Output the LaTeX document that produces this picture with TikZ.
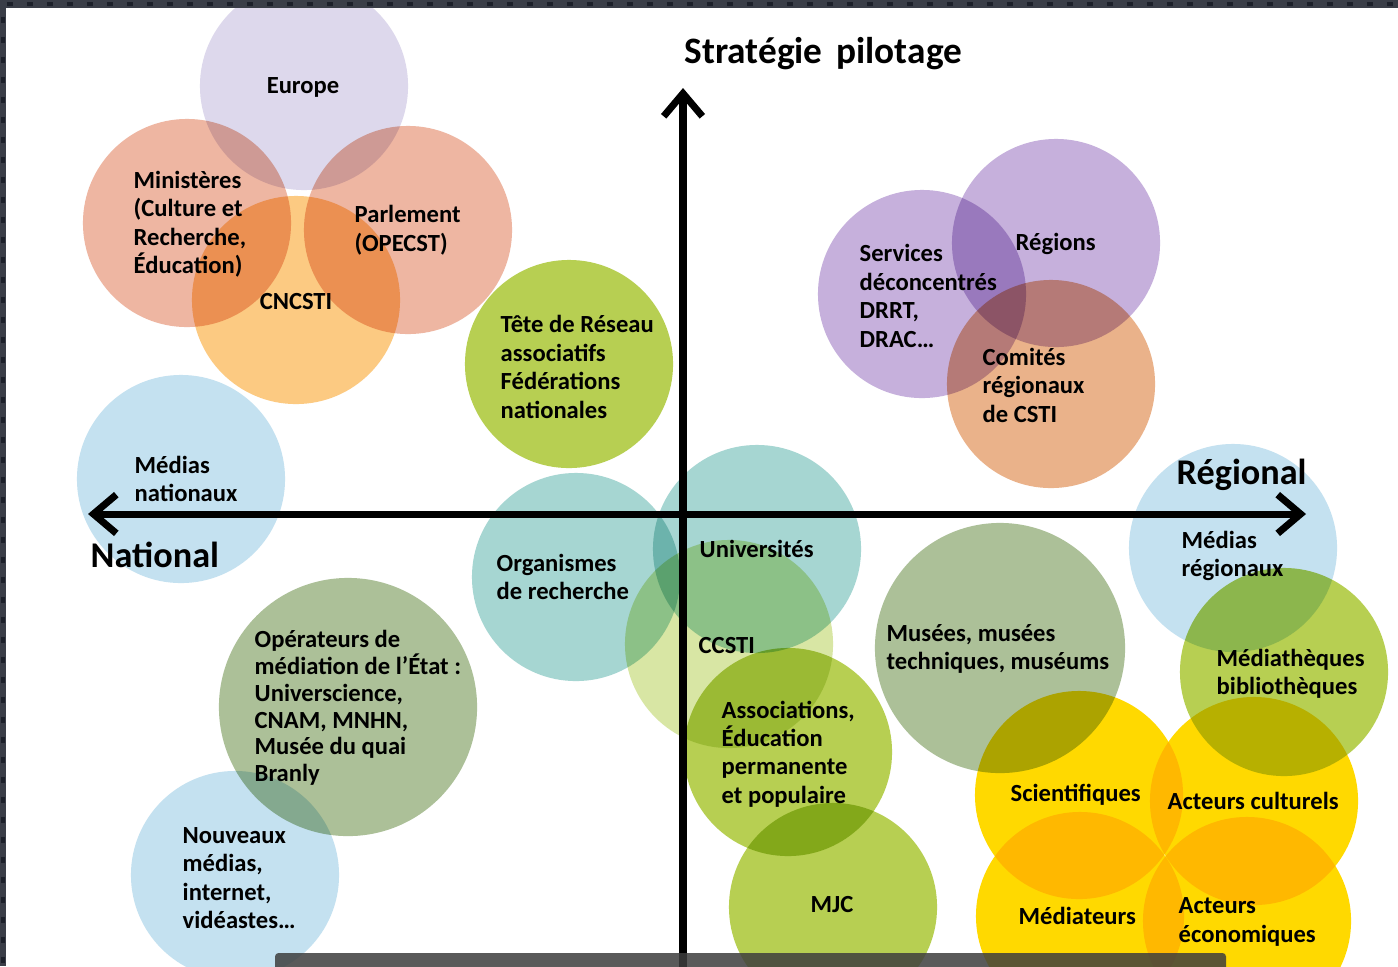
\documentclass[tikz,border=0pt]{standalone}
\usepackage{fontspec}
\setmainfont{Carlito}
\usetikzlibrary{arrows.meta}

\definecolor{lavender}{RGB}{221,216,236}
\definecolor{salmon}{RGB}{238,182,162}
\definecolor{orangel}{RGB}{252,202,130}
\definecolor{greenA}{RGB}{183,207,82}
\definecolor{skyblue}{RGB}{196,225,240}
\definecolor{teal}{RGB}{166,214,210}
\definecolor{palegreen}{RGB}{216,230,164}
\definecolor{sage}{RGB}{172,192,152}
\definecolor{purple}{RGB}{198,176,220}
\definecolor{peach}{RGB}{234,178,138}
\definecolor{yellowA}{RGB}{255,217,0}
\definecolor{band}{RGB}{58,62,72}
\definecolor{banddot}{RGB}{28,32,42}
\definecolor{barcol}{RGB}{62,62,62}

\begin{document}
\begin{tikzpicture}[x=0.01cm,y=-0.01cm]
\tikzstyle{disc}=[circle,inner sep=0pt,minimum size=2.08cm]
\tikzstyle{lbl}=[inner sep=0pt,anchor=west,align=left,font=\fontsize{7}{8.1}\selectfont\bfseries]
\tikzstyle{big}=[inner sep=0pt,anchor=west,font=\fontsize{10.3}{12}\selectfont\bfseries]
\tikzstyle{axis}=[line width=2pt]

\useasboundingbox (0,0) rectangle (1398,966);
\fill[white] (0,0) rectangle (1398,966);

\begin{scope}[blend mode=multiply]
\node[disc,fill=lavender] (eu) at (304,86) {};
\node[disc,fill=salmon] (min) at (187,223) {};
\node[disc,fill=salmon] (par) at (408,230) {};
\node[disc,fill=orangel] (cnc) at (296,300) {};
\node[disc,fill=greenA] (tete) at (569,364) {};
\node[disc,fill=skyblue] (mnat) at (181,479) {};
\node[disc,fill=teal] (org) at (576,577) {};
\node[disc,fill=teal] (univ) at (757,549) {};
\node[disc,fill=palegreen] (ccsti) at (729,644) {};
\node[disc,fill=greenA] (asso) at (788,752) {};
\node[disc,fill=greenA] (mjc) at (833,907) {};
\node[disc,fill=sage,minimum size=2.58cm] (oper) at (348,707) {};
\node[disc,fill=skyblue] (nmed) at (235,875) {};
\node[disc,fill=purple] (serv) at (922,294) {};
\node[disc,fill=purple] (reg) at (1056,243) {};
\node[disc,fill=peach] (com) at (1051,384) {};
\node[disc,fill=skyblue] (mreg) at (1233,548) {};
\node[disc,fill=sage,minimum size=2.5cm] (mus) at (1000,648) {};
\node[disc,fill=greenA] (mtq) at (1284,672) {};
\node[disc,fill=yellowA] (sci) at (1079,795) {};
\node[disc,fill=yellowA] (acul) at (1254,801) {};
\node[disc,fill=yellowA] (medi) at (1080,916) {};
\node[disc,fill=yellowA] (aeco) at (1247,921) {};
\end{scope}

\coordinate (up) at (683,88);
\coordinate (bot) at (683,975);
\coordinate (west) at (88,514);
\coordinate (east) at (1306,514);
\draw[axis,-{Straight Barb[length=6.5pt,width=11pt]}] (bot) -- (up);
\draw[axis,{Straight Barb[length=6.5pt,width=11pt]}-{Straight Barb[length=6.5pt,width=11pt]}] (west) -- (east);

\node[lbl,anchor=center] (eu-t) at (303,87) {Europe};
\node[lbl] (min-t) at (133,224) {Ministères\\(Culture et\\Recherche,\\Éducation)};
\node[lbl] (par-t) at (354,230) {Parlement\\(OPECST)};
\node[lbl,anchor=center] (cnc-t) at (296,301) {CNCSTI};
\node[lbl] (tete-t) at (500,367) {Tête de Réseau\\associatifs\\Fédérations\\nationales};
\node[lbl] (mnat-t) at (134,479) {Médias\\nationaux};
\node[lbl] (org-t) at (496,577) {Organismes\\de recherche};
\node[lbl] (univ-t) at (699,549) {Universités};
\node[lbl] (ccsti-t) at (698,645) {CCSTI};
\node[lbl] (asso-t) at (721,754) {Associations,\\Éducation\\permanente\\et populaire};
\node[lbl,anchor=center] (mjc-t) at (832,904) {MJC};
\node[lbl,font=\fontsize{7}{7.6}\selectfont\bfseries] (oper-t) at (254,708) {Opérateurs de\\médiation de l’État :\\Universcience,\\CNAM, MNHN,\\Musée du quai\\Branly};
\node[lbl] (nmed-t) at (182,878) {Nouveaux\\médias,\\internet,\\vidéastes…};
\node[lbl] (serv-t) at (859,296) {Services\\déconcentrés\\DRRT,\\DRAC…};
\node[lbl] (reg-t) at (1015,244) {Régions};
\node[lbl] (com-t) at (982,385) {Comités\\régionaux\\de CSTI};
\node[lbl] (mreg-t) at (1181,556) {Médias\\régionaux};
\node[lbl] (mus-t) at (886,649) {Musées, musées\\techniques, muséums};
\node[lbl] (mtq-t) at (1216,674) {Médiathèques\\bibliothèques};
\node[lbl] (sci-t) at (1010,795) {Scientifiques};
\node[lbl] (acul-t) at (1167,801) {Acteurs culturels};
\node[lbl] (medi-t) at (1018,916) {Médiateurs};
\node[lbl] (aeco-t) at (1178,922) {Acteurs\\économiques};

\node[big,font=\fontsize{10.6}{12}\selectfont\bfseries] (strat) at (684,54) {Stratégie\hspace{0.15em} pilotage};
\node[big] (nat) at (90,555) {National};
\node[big] (regl) at (1176,475) {Régional};

\fill[barcol,opacity=0.85,rounded corners=1pt] (275,975) rectangle (1226,953);

\fill[band] (0,0) rectangle (1398,8);
\fill[band] (0,0) rectangle (6,966);
\foreach \x in {0,20,...,1380}
{
  \fill[banddot] (\x+7,2) rectangle (\x+13,6);
}
\foreach \y in {10,30,...,950}
{
  \fill[banddot] (1,\y+7) rectangle (5,\y+13);
}
\end{tikzpicture}
\end{document}
